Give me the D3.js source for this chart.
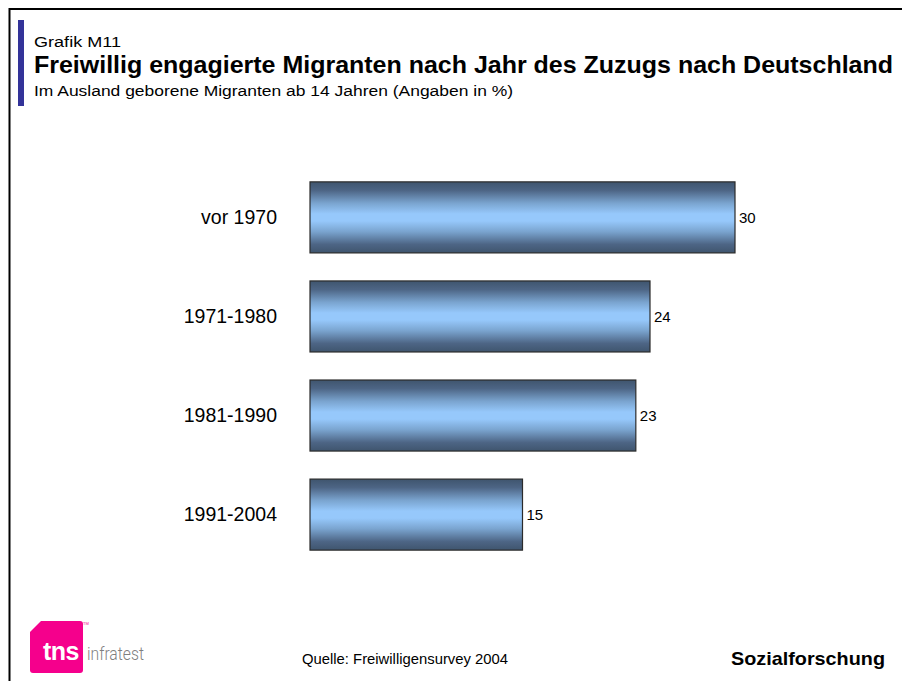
<!DOCTYPE html>
<html>
<head>
<meta charset="utf-8">
<script src="https://cdn.jsdelivr.net/npm/d3@7"></script>
<style>
  html, body { margin: 0; padding: 0; background: #fff; }
  svg { display: block; font-family: "Liberation Sans", Arial, Helvetica, sans-serif; }
</style>
</head>
<body>
<svg id="chart" width="902" height="681"></svg>
<script>
// Zuzugsjahr-Gruppen und Anteil freiwillig Engagierter (%)
const categories = ["vor 1970", "1971-1980", "1981-1990", "1991-2004"];
const values = [30, 24, 23, 15];

const svg = d3.select("#chart");

// Rahmen oben und links
svg.append("path")
  .attr("d", "M9.5,681 V9 H902")
  .attr("fill", "none")
  .attr("stroke", "#000")
  .attr("stroke-width", 2);

// Akzentbalken links neben der Überschrift
svg.append("rect")
  .attr("x", 18).attr("y", 20).attr("width", 6).attr("height", 86)
  .attr("fill", "#333399");

svg.append("text").attr("x", 34).attr("y", 47)
  .attr("font-size", 15.5).attr("fill", "#000")
  .attr("textLength", 87).attr("lengthAdjust", "spacingAndGlyphs")
  .text("Grafik M11");
svg.append("text").attr("x", 34).attr("y", 73)
  .attr("font-size", 24).attr("font-weight", "bold").attr("fill", "#000")
  .attr("textLength", 859).attr("lengthAdjust", "spacingAndGlyphs")
  .text("Freiwillig engagierte Migranten nach Jahr des Zuzugs nach Deutschland");
svg.append("text").attr("x", 34).attr("y", 96)
  .attr("font-size", 15.5).attr("fill", "#000")
  .attr("textLength", 479).attr("lengthAdjust", "spacingAndGlyphs")
  .text("Im Ausland geborene Migranten ab 14 Jahren (Angaben in %)");

// Verlauf der Balken: dunkel an den Kanten, hell in der Mitte
const defs = svg.append("defs");
const grad = defs.append("linearGradient")
  .attr("id", "barGrad").attr("x1", 0).attr("y1", 0).attr("x2", 0).attr("y2", 1);
[[0, "#3f556e"], [0.12, "#4d6585"], [0.3, "#7aa4cf"], [0.45, "#96c8fb"],
 [0.55, "#96c8fb"], [0.7, "#7aa4cf"], [0.88, "#4d6585"], [1, "#3f556e"]]
  .forEach(([o, c]) => grad.append("stop").attr("offset", o).attr("stop-color", c));

const x = d3.scaleLinear().domain([0, 30]).range([310, 735]);
const y = d3.scaleBand().domain(categories).range([168, 564]).paddingInner(0.283).paddingOuter(0.14);

const g = svg.append("g");

g.selectAll("rect.bar")
  .data(categories)
  .join("rect")
  .attr("class", "bar")
  .attr("x", x(0))
  .attr("y", d => y(d))
  .attr("width", (d, i) => x(values[i]) - x(0))
  .attr("height", y.bandwidth())
  .attr("fill", "url(#barGrad)")
  .attr("stroke", "#2b2b2b")
  .attr("stroke-width", 1.2);

// Kategorienbeschriftung
g.selectAll("text.cat")
  .data(categories)
  .join("text")
  .attr("class", "cat")
  .attr("x", 277)
  .attr("y", d => y(d) + y.bandwidth() / 2)
  .attr("dy", "0.35em")
  .attr("text-anchor", "end")
  .attr("font-size", 19.5)
  .attr("fill", "#000")
  .text(d => d);

// Wertebeschriftung am Balkenende
g.selectAll("text.val")
  .data(categories)
  .join("text")
  .attr("class", "val")
  .attr("x", (d, i) => x(values[i]) + 4)
  .attr("y", d => y(d) + y.bandwidth() / 2)
  .attr("dy", "0.35em")
  .attr("font-size", 15)
  .attr("fill", "#000")
  .text((d, i) => values[i]);

// Fußzeile
svg.append("text").attr("x", 302).attr("y", 664)
  .attr("font-size", 14.5).attr("fill", "#000")
  .attr("textLength", 206).attr("lengthAdjust", "spacingAndGlyphs")
  .text("Quelle: Freiwilligensurvey 2004");
svg.append("text").attr("x", 731).attr("y", 665)
  .attr("font-size", 19).attr("font-weight", "bold").attr("fill", "#000")
  .attr("textLength", 154).attr("lengthAdjust", "spacingAndGlyphs")
  .text("Sozialforschung");

// Logo
const logo = svg.append("g");
logo.append("path")
  .attr("d", "M41,621 H80 Q83,621 83,624 V670 Q83,673 80,673 H33 Q30,673 30,670 V632 Z")
  .attr("fill", "#f5008c");
logo.append("text").attr("x", 43).attr("y", 660)
  .attr("font-size", 25).attr("font-weight", "bold").attr("fill", "#fff")
  .attr("letter-spacing", -0.5)
  .text("tns");
logo.append("text").attr("x", 83).attr("y", 625)
  .attr("font-size", 4).attr("fill", "#f5008c").text("TM");
logo.append("text").attr("x", 87).attr("y", 660)
  .attr("font-family", "Roboto, 'Liberation Sans', sans-serif")
  .attr("font-weight", 300)
  .attr("font-size", 18).attr("fill", "#7f7f7f")
  .attr("textLength", 57)
  .attr("lengthAdjust", "spacingAndGlyphs")
  .text("infratest");
</script>
</body>
</html>
